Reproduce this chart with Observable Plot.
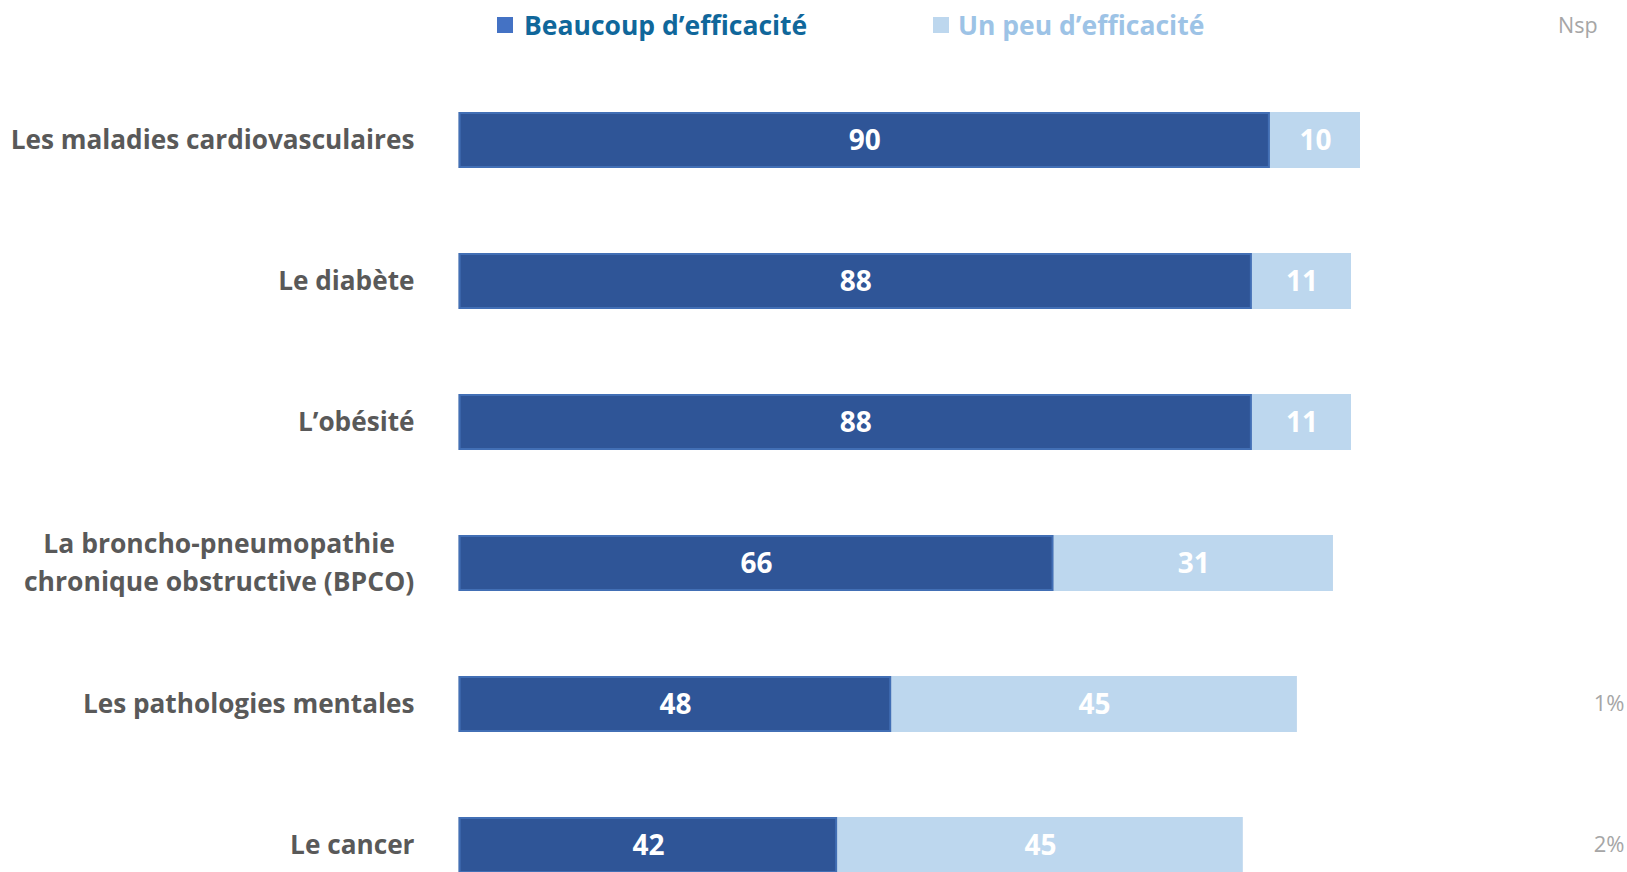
<!DOCTYPE html>
<html>
<head>
<meta charset="utf-8">
<script src="https://cdn.jsdelivr.net/npm/d3@7"></script>
<script src="https://cdn.jsdelivr.net/npm/@observablehq/plot@0.6"></script>
<style>
  html, body { margin: 0; padding: 0; background: #fff; overflow: hidden; }
  body { font-family: "Open Sans", Lato, sans-serif; width: 1627px; height: 872px; }
  #legend { position: relative; height: 60px; width: 1627px; }
  #legend .sw { position: absolute; width: 16px; height: 16px; top: 17px; }
  #legend .lt { position: absolute; top: 9px; font-size: 26.5px; line-height: 32px; font-weight: 700; white-space: nowrap; }
  #legend .nsp { position: absolute; top: 11px; left: 1558px; font-size: 21.5px; line-height: 28px; color: #A6A6A6; }
  #chart svg { display: block; overflow: hidden; }
</style>
</head>
<body>
<div id="legend"></div>
<div id="chart"></div>
<script>
// ---- data ----
const categories = [
  "Les maladies cardiovasculaires",
  "Le diabète",
  "L’obésité",
  "La broncho-pneumopathie chronique obstructive (BPCO)",
  "Les pathologies mentales",
  "Le cancer"
];
const categoryLabels = [
  "Les maladies cardiovasculaires",
  "Le diabète",
  "L’obésité",
  "La broncho-pneumopathie\nchronique obstructive (BPCO)",
  "Les pathologies mentales",
  "Le cancer"
];
const seriesNames = ["Beaucoup d’efficacité", "Un peu d’efficacité"];
const beaucoup = [90, 88, 88, 66, 48, 42];
const unPeu = [10, 11, 11, 31, 45, 45];
const nspLabel = "Nsp";
const nsp = [null, null, null, null, 1, 2];

const seriesColors = ["#2F5597", "#BDD7EE"];
const swatchColors = ["#4472C4", "#BDD7EE"];
const legendTextColors = ["#10679B", "#9DC3E6"];

// ---- legend (HTML, above the SVG) ----
const legend = document.getElementById("legend");
const legendPos = [[497, 524], [933, 958]];
seriesNames.forEach((name, i) => {
  const sw = document.createElement("div");
  sw.className = "sw";
  sw.style.left = legendPos[i][0] + "px";
  sw.style.background = swatchColors[i];
  legend.appendChild(sw);
  const t = document.createElement("div");
  t.className = "lt";
  t.style.left = legendPos[i][1] + "px";
  t.style.color = legendTextColors[i];
  t.textContent = name;
  legend.appendChild(t);
});
const nspEl = document.createElement("div");
nspEl.className = "nsp";
nspEl.textContent = nspLabel;
legend.appendChild(nspEl);

// ---- table ----
const rows = [];
categories.forEach((c, i) => {
  rows.push({cat: c, serie: seriesNames[0], value: beaucoup[i]});
  rows.push({cat: c, serie: seriesNames[1], value: unPeu[i]});
});
const labelRows = categories.map((c, i) => ({cat: c, label: categoryLabels[i]}));
const nspRows = categories.map((c, i) => ({cat: c, v: nsp[i]})).filter(d => d.v != null);

const font = "'Open Sans', Lato, sans-serif";
const chart = Plot.plot({
  width: 1627,
  height: 812,
  marginLeft: 458.6,
  marginRight: 267,
  marginTop: 0,
  marginBottom: 0,
  style: {fontFamily: font, background: "#fff"},
  x: {domain: [0, 100], axis: null},
  y: {domain: categories, range: [7.5, 858.3], paddingInner: 0.6, paddingOuter: 0.3, axis: null},
  color: {domain: seriesNames, range: seriesColors},
  marks: [
    Plot.barX(rows, Plot.stackX({
      x: "value", y: "cat", fill: "serie", z: "serie", order: seriesNames
    })),
    Plot.barX(rows.filter(d => d.serie === seriesNames[0]), {
      x: "value", y: "cat", fill: "none", stroke: "#4775BD", strokeWidth: 2, strokeOpacity: 0.8, inset: 1
    }),
    Plot.text(rows, Plot.stackX({
      x: "value", y: "cat", z: "serie", order: seriesNames, text: d => String(d.value),
      fill: "white", fontSize: 28, fontWeight: "bold", dy: 1
    })),
    Plot.text(labelRows.filter(d => !d.label.includes("\n")), {
      y: "cat", text: "label", frameAnchor: "left", textAnchor: "end", dx: -44.6,
      fill: "#595959", fontSize: 26.2, fontWeight: "bold"
    }),
    Plot.text(labelRows.filter(d => d.label.includes("\n")), {
      y: "cat", text: "label", frameAnchor: "left", textAnchor: "middle", dx: -240, dy: -4,
      lineHeight: 1.45, fill: "#595959", fontSize: 26.5, fontWeight: "bold"
    }),
    Plot.text(nspRows, {
      y: "cat", text: d => d.v + "%", frameAnchor: "right", textAnchor: "end", dx: 264, dy: -1,
      fill: "#A6A6A6", fontSize: 22
    })
  ]
});
document.getElementById("chart").appendChild(chart);
</script>
</body>
</html>
